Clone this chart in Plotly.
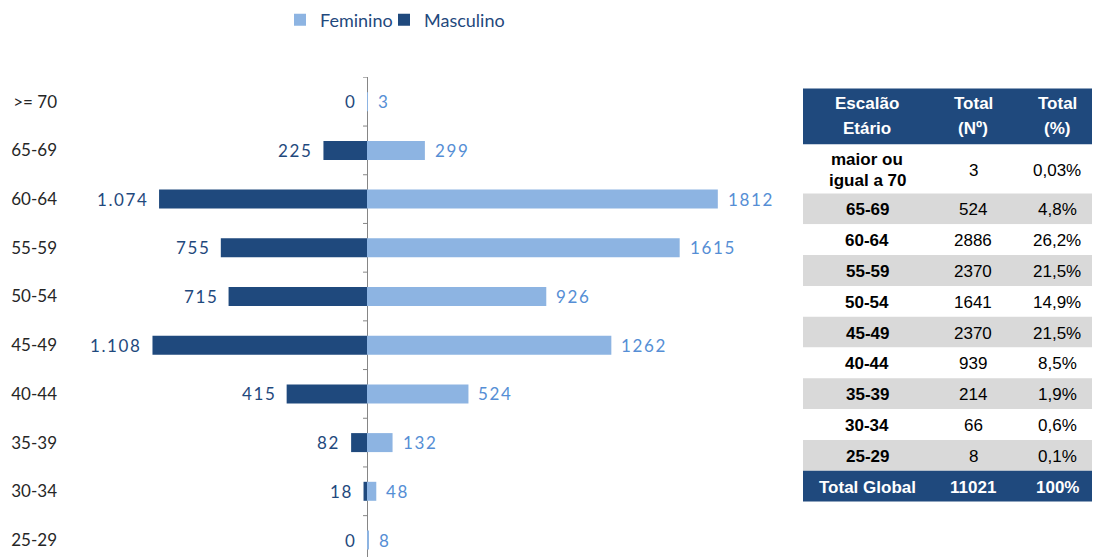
import plotly.graph_objects as go

# ---- data ----
age_groups = ["25-29", "30-34", "35-39", "40-44", "45-49", "50-54", "55-59", "60-64", "65-69", ">= 70"]
masculino = [0, 18, 82, 415, 1108, 715, 755, 1074, 225, 0]
feminino = [8, 48, 132, 524, 1262, 926, 1615, 1812, 299, 3]

table_header = ["Escalão<br>Etário", "Total<br>(Nº)", "Total<br>(%)"]
table_labels = ["maior ou<br>igual a 70", "65-69", "60-64", "55-59", "50-54", "45-49",
                "40-44", "35-39", "30-34", "25-29", "Total Global"]
table_totals = [3, 524, 2886, 2370, 1641, 2370, 939, 214, 66, 8, 11021]
table_pct = ["0,03%", "4,8%", "26,2%", "21,5%", "14,9%", "21,5%", "8,5%", "1,9%", "0,6%", "0,1%", "100%"]

DARK = "#1F497D"
LIGHT = "#8DB4E2"
LIGHT_TXT = "#558ED5"
GRAY = "#D9D9D9"
CAL = "Lato, Carlito, Calibri, sans-serif"
ARIAL = "Liberation Sans, Arial, sans-serif"

W, H = 1094, 557
ML, MR = 70, 2
PW = W - ML - MR
UNIT = 48.7          # px per category
ZERO_PX = 367        # x pixel of the central axis
PLOT_R = 790
SCALE = 5.165        # people per px


def px(fx):
    return (fx - ML) / PW


def py(fy):
    return 1 - fy / H


def fmt_pt(v):
    return f"{v:,}".replace(",", ".")


def spaced(t):
    return f"<span style='letter-spacing:1.6px'>{t}</span>"


fig = go.Figure()
fig.add_trace(go.Bar(y=age_groups, x=feminino, orientation="h", name="Feminino",
                     marker=dict(color=LIGHT, line=dict(width=0)), hoverinfo="skip",
                     legend="legend"))
fig.add_trace(go.Bar(y=age_groups, x=[-v for v in masculino], orientation="h", name="Masculino",
                     marker=dict(color=DARK, line=dict(width=0)), hoverinfo="skip",
                     legend="legend2"))

annotations = []
for cat, m, f in zip(age_groups, masculino, feminino):
    annotations.append(dict(x=-m, y=cat, xref="x", yref="y", text=spaced(fmt_pt(m)), showarrow=False,
                            xanchor="right", xshift=-9, font=dict(family=CAL, size=17, color=DARK)))
    annotations.append(dict(x=f, y=cat, xref="x", yref="y", text=spaced(str(f)), showarrow=False,
                            xanchor="left", xshift=8, font=dict(family=CAL, size=17, color=LIGHT_TXT)))

# tick marks on the central axis, between categories
shapes = []
for i in range(len(age_groups)):
    shapes.append(dict(type="line", xref="x", yref="y", xsizemode="pixel", xanchor=0,
                       x0=-4, x1=0, y0=i + 0.5, y1=i + 0.5,
                       line=dict(color="#868686", width=1)))

# ---- table drawn with shapes + annotations ----
col_edges = [803, 932, 1013, 1092]
header_top, header_bot = 88.5, 144.5
first_bot = 193.5
table_bot = 501.5
n = len(table_labels)
row_h = (table_bot - first_bot) / (n - 1)
row_edges = [header_bot, first_bot] + [first_bot + row_h * (k + 1) for k in range(n - 1)]
col_cx = [867, 973, 1057]


def rect(x0, x1, y0, y1, color):
    shapes.append(dict(type="rect", xref="paper", yref="paper", x0=px(x0), x1=px(x1),
                       y0=py(y1), y1=py(y0), fillcolor=color, line=dict(width=0), layer="below"))


def cell_text(text, x, yc, bold, color, size=17, spacing=21):
    lines = text.split("<br>")
    k = len(lines)
    for j, ln in enumerate(lines):
        y = yc + (j - (k - 1) / 2) * spacing
        t = f"<b>{ln}</b>" if bold else ln
        annotations.append(dict(x=px(x), y=py(y), xref="paper", yref="paper", text=t,
                                showarrow=False, xanchor="center", yanchor="middle",
                                font=dict(family=ARIAL, size=size, color=color)))


# header
rect(col_edges[0], col_edges[-1], header_top, header_bot, DARK)
for j, h in enumerate(table_header):
    cell_text(h, col_cx[j], (header_top + header_bot) / 2 - 0.5, True, "white", spacing=24)

# body
for i in range(n):
    y0, y1 = row_edges[i], row_edges[i + 1]
    last = i == n - 1
    fill = DARK if last else ("white" if i % 2 == 0 else GRAY)
    color = "white" if last else "black"
    rect(col_edges[0], col_edges[-1], y0, y1, fill)
    yc = (y0 + y1) / 2 + 1
    cell_text(table_labels[i], col_cx[0], yc, True, color)
    cell_text(str(table_totals[i]), col_cx[1], yc, last, color)
    cell_text(table_pct[i], col_cx[2], yc, last, color)

legend_style = dict(orientation="h", xanchor="left", y=py(20), yanchor="middle",
                    font=dict(family=CAL, size=18, color=DARK),
                    itemwidth=30, itemsizing="constant", bgcolor="rgba(0,0,0,0)")

fig.update_layout(
    width=W, height=H,
    margin=dict(l=ML, r=MR, t=0, b=0),
    paper_bgcolor="white", plot_bgcolor="white",
    barmode="relative", bargap=0.61,
    showlegend=True,
    legend=dict(x=px(280), **legend_style),
    legend2=dict(x=px(384), **legend_style),
    xaxis=dict(domain=[0, px(PLOT_R)],
               range=[-(ZERO_PX - ML) * SCALE, (PLOT_R - ZERO_PX) * SCALE],
               showgrid=False, showticklabels=False, ticks="", showline=False,
               zeroline=True, zerolinecolor="#868686", zerolinewidth=1, fixedrange=True),
    yaxis=dict(domain=[0, py(540 - 9.5 * UNIT)], range=[-(H - 540) / UNIT, 9.5], showgrid=False,
               showline=False, zeroline=False, ticks="", ticklabelstandoff=12,
               tickfont=dict(family=CAL, size=17, color="#262626"), fixedrange=True),
    annotations=annotations,
    shapes=shapes,
)

fig.write_html("out.html", config={"displayModeBar": False},
               post_script="document.body.style.margin='0px';document.body.style.overflow='hidden';")
